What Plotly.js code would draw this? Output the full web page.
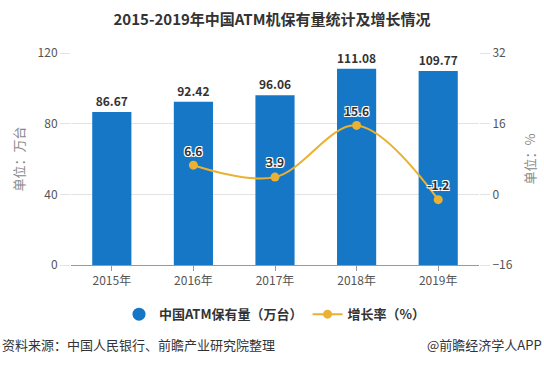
<!DOCTYPE html>
<html><head><meta charset="utf-8">
<script src="https://cdn.plot.ly/plotly-3.0.1.min.js"></script>
<style>html,body{margin:0;padding:0;background:#fff;}#chart{width:544px;height:365px;}</style>
</head><body><div id="chart"></div>
<script>
const years = ['2015年','2016年','2017年','2018年','2019年'];
const atmCount = [86.67, 92.42, 96.06, 111.08, 109.77];
const growthYears = ['2016年','2017年','2018年','2019年'];
const growthRate = [6.6, 3.9, 15.6, -1.2];
const barName = '中国ATM保有量（万台）';
const lineName = '增长率（%）';

const FONT = '"Noto Sans CJK SC", "Noto Sans", sans-serif';
const BLUE = '#1677c6';
const GOLD = '#ebb132';
const outline = '-1px -1px 0 #fff, 1px -1px 0 #fff, -1px 1px 0 #fff, 1px 1px 0 #fff';

const traces = [
  {
    type: 'bar', x: years, y: atmCount, name: barName, showlegend: false,
    marker: {color: BLUE},
    text: atmCount.map(v => v.toFixed(2)), textposition: 'outside', cliponaxis: false,
    textfont: {family: FONT, size: 12, color: '#333', weight: 'bold'},
    hoverinfo: 'none'
  },
  {
    type: 'scatter', mode: 'markers', x: [null], y: [null], name: barName,
    marker: {color: BLUE, size: 13, symbol: 'circle'}, hoverinfo: 'none'
  },
  {
    type: 'scatter', mode: 'lines+markers+text', x: growthYears, y: growthRate, yaxis: 'y2',
    name: lineName, line: {color: GOLD, width: 2, shape: 'spline', smoothing: 1},
    marker: {color: GOLD, size: 9},
    text: growthRate.map(v => v.toFixed(1)), textposition: 'top center', cliponaxis: false,
    textfont: {family: FONT, size: 12, color: '#333', weight: 'bold', shadow: outline},
    hoverinfo: 'none'
  }
];

const layout = {
  width: 544, height: 365,
  margin: {l: 71, r: 65, t: 53, b: 100},
  paper_bgcolor: '#fff', plot_bgcolor: '#fff',
  font: {family: FONT, color: '#555', size: 12},
  title: {text: '2015-2019年中国ATM机保有量统计及增长情况', x: 0.5, xanchor: 'center', y: 0.945, yanchor: 'middle',
          font: {family: FONT, size: 15, color: '#333', weight: 'bold'}},
  bargap: 0.52,
  xaxis: {
    type: 'category', showgrid: false, showline: true, linecolor: '#999', linewidth: 1,
    ticks: 'outside', ticklen: 5, tickcolor: '#999',
    tickfont: {family: FONT, size: 12, color: '#555'}, zeroline: false
  },
  yaxis: {
    range: [0, 120], tickvals: [0, 40, 80, 120], showgrid: true, gridcolor: '#e3e3e3',
    ticks: 'outside', ticklen: 10, tickcolor: '#e3e3e3', zeroline: false,
    tickfont: {family: FONT, size: 12, color: '#555'},
    title: {text: '单位：万台', font: {family: FONT, size: 13, color: '#888'}, standoff: 10}
  },
  yaxis2: {
    overlaying: 'y', side: 'right', range: [-16, 32], tickvals: [-16, 0, 16, 32],
    showgrid: false, zeroline: false, ticks: 'outside', ticklen: 10, tickcolor: '#e3e3e3',
    tickfont: {family: FONT, size: 12, color: '#555'},
    title: {text: '单位：%', font: {family: FONT, size: 13, color: '#888'}, standoff: 14}
  },
  legend: {
    orientation: 'h', x: 0.50, xanchor: 'center', y: -0.232, yanchor: 'middle',
    font: {family: FONT, size: 13, color: '#333', weight: 'bold'}, itemwidth: 30
  },
  annotations: [
    {text: '资料来源：中国人民银行、前瞻产业研究院整理', xref: 'paper', yref: 'paper', x: -71/408, xanchor: 'left',
     y: 344, showarrow: false, font: {family: FONT, size: 13, color: '#333'}},
    {text: '@前瞻经济学人APP', xref: 'paper', yref: 'paper', x: (544-71)/408, xanchor: 'right',
     y: 344, showarrow: false, font: {family: FONT, size: 13, color: '#333'}}
  ]
};
// footer annotation y in paper coords
const ph = 365 - 53 - 100;
layout.annotations.forEach(a => { a.y = (365 - 100 - a.y) / ph; a.yanchor = 'middle'; });

Plotly.newPlot('chart', traces, layout, {displayModeBar: false, staticPlot: true});
</script></body></html>
